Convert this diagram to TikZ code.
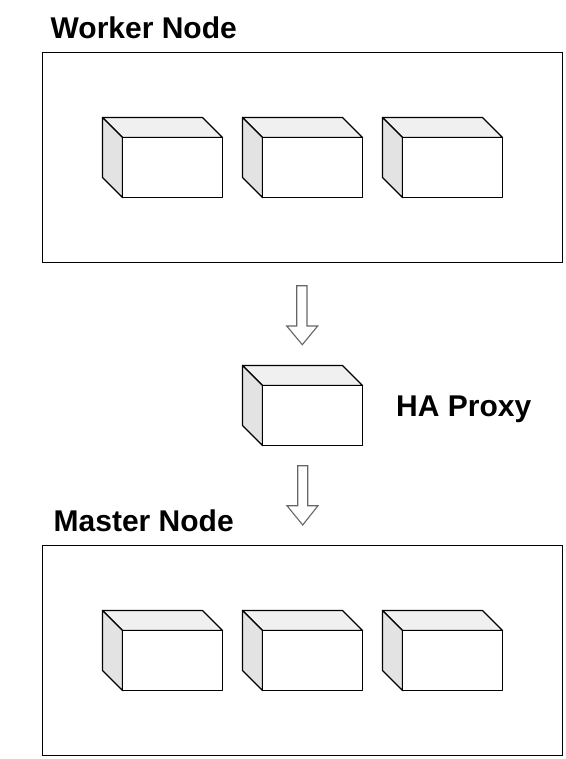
\documentclass[tikz,border=0pt]{standalone}
\usepackage{fontspec}
\setmainfont{Liberation Sans}
\tikzset{
  frame/.style={draw=black,line width=1pt,fill=white},
  edge3d/.style={draw=black,line width=1.2pt,line join=round},
  blockarrow/.style={draw=black!60,line width=1.1pt,fill=white,line join=miter},
  heading/.style={font=\bfseries\fontsize{30}{30}\selectfont,anchor=base west,inner sep=0pt,text=black},
  cube/.pic={
    \path[edge3d,fill=black!6] (0,0) -- (100,0) -- (120,20) -- (20,20) -- cycle;
    \path[edge3d,fill=black!11] (0,0) -- (20,20) -- (20,80) -- (0,60) -- cycle;
    \path[edge3d,fill=white] (20,20) rectangle (120,80);
  }
}
\begin{document}
\begin{tikzpicture}[x=1pt,y=-1pt]
\useasboundingbox (0,0) rectangle (565,759);
\fill[white] (0,0) rectangle (565,759);
\draw[frame] (42.5,52.5) rectangle (562.5,262.5);
\draw[frame] (42.5,545.5) rectangle (562.5,755.5);
\foreach \x in {102.5,242.5,382.5} {
  \pic at (\x,117.5) {cube};
  \pic at (\x,610.5) {cube};
}
\pic at (242.5,365.5) {cube};
\path[blockarrow] (296.7,285.7) -- (307,285.7) -- (307,326) -- (317.7,326) -- (302.3,344.7) -- (286.7,326) -- (296.7,326) -- cycle;
\path[blockarrow] (297.7,465.7) -- (307.7,465.7) -- (307.7,505.7) -- (318,505.7) -- (302.7,525) -- (287,505.7) -- (297.7,505.7) -- cycle;
\node[heading] (worker) at (50.5,38.2) {Worker Node};
\node[heading] (master) at (53.5,531) {Master Node};
\node[heading] (proxy) at (396,416) {HA Proxy};
\end{tikzpicture}
\end{document}
